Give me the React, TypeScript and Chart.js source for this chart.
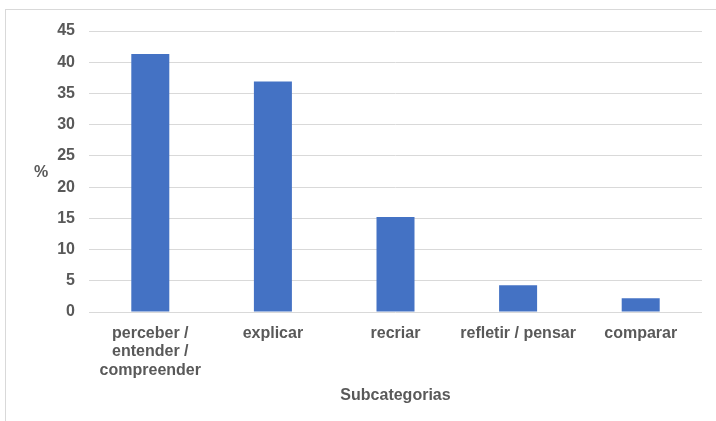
import React, { useEffect, useRef } from "react";
import { Chart, registerables } from "chart.js";

Chart.register(...registerables);

const categories: (string | string[])[] = [
  ["perceber /", "entender /", "compreender"],
  "explicar",
  "recriar",
  "refletir / pensar",
  "comparar",
];
const percentages = [41.3, 36.9, 15.2, 4.3, 2.2];
const yTicks = [0, 5, 10, 15, 20, 25, 30, 35, 40, 45];
const xTitle = "Subcategorias";
const yTitle = "%";

const TEXT = "#595959";
const GRID = "#d9d9d9";
const BAR = "#4472C4";
const FONT = "'Liberation Sans', Arial, sans-serif";

// Draws the unrotated "%" label beside the value axis
const yTitlePlugin = {
  id: "yTitle",
  afterDraw(chart: any) {
    const ctx = chart.ctx;
    ctx.save();
    ctx.font = `bold 16px ${FONT}`;
    ctx.fillStyle = TEXT;
    ctx.textAlign = "center";
    ctx.textBaseline = "middle";
    ctx.fillText(yTitle, 41, 173);
    ctx.restore();
  },
};

export default function App() {
  const canvasRef = useRef<HTMLCanvasElement>(null);

  useEffect(() => {
    if (!canvasRef.current) return;
    const chart = new Chart(canvasRef.current, {
      type: "bar",
      data: {
        labels: categories,
        datasets: [
          {
            data: percentages,
            backgroundColor: BAR,
            borderWidth: 0,
            categoryPercentage: 1,
            barPercentage: 0.31,
          },
        ],
      },
      options: {
        animation: false,
        responsive: false,
        maintainAspectRatio: false,
        layout: { padding: { top: 31, right: 14, left: 0, bottom: 0 } },
        plugins: { legend: { display: false }, tooltip: { enabled: false } },
        scales: {
          x: {
            grid: { display: false, drawTicks: false },
            border: { display: false },
            ticks: {
              color: TEXT,
              font: { family: FONT, size: 16, weight: "bold", lineHeight: 1.17 },
              padding: 12,
              maxRotation: 0,
              autoSkip: false,
            },
            title: {
              display: true,
              text: xTitle,
              color: TEXT,
              font: { family: FONT, size: 16, weight: "bold" },
              padding: { top: 0, bottom: 16 },
            },
            afterFit(scale: any) {
              scale.height = 109;
            },
          },
          y: {
            min: 0,
            max: 45,
            afterBuildTicks(scale: any) {
              scale.ticks = yTicks.map((v) => ({ value: v }));
            },
            grid: { color: GRID, lineWidth: 1, drawTicks: false },
            border: { display: false },
            ticks: {
              color: TEXT,
              font: { family: FONT, size: 16, weight: "bold" },
              padding: 14,
            },
            afterFit(scale: any) {
              scale.width = 89;
            },
          },
        },
      },
      plugins: [yTitlePlugin],
    });
    return () => chart.destroy();
  }, []);

  return (
    <div
      style={{
        position: "fixed",
        left: 0,
        top: 0,
        width: 716,
        height: 421,
        background: "#fff",
        overflow: "hidden",
      }}
    >
      <div
        style={{
          position: "absolute",
          left: 5,
          top: 9,
          width: 760,
          height: 460,
          border: `1px solid ${GRID}`,
        }}
      />
      <canvas
        ref={canvasRef}
        width={716}
        height={421}
        style={{ position: "absolute", left: 0, top: 0 }}
      />
    </div>
  );
}
